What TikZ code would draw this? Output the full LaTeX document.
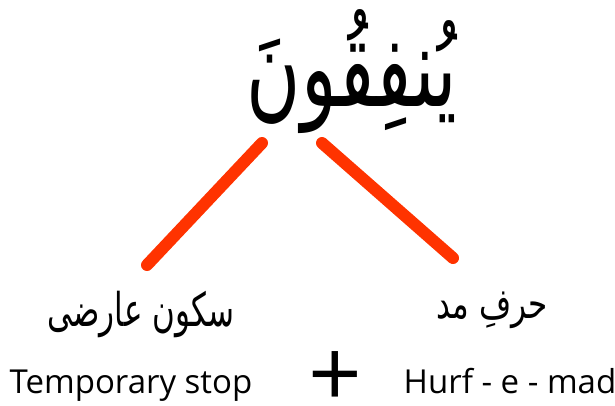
\documentclass[tikz,border=0pt]{standalone}
\usepackage{fontspec}
\setmainfont{Open Sans}
\newfontfamily\arabicfont[Script=Arabic]{DejaVu Sans}
\TeXXeTstate=1
\definecolor{branchred}{HTML}{FF3300}

\begin{document}
\begin{tikzpicture}[x=1pt, y=-1pt]

% --- Styles ---
\tikzset{
    word/.style={inner sep=0pt, font=\arabicfont\fontsize{74}{80}\selectfont},
    urdu/.style={inner sep=0pt, font=\arabicfont\fontsize{31}{36}\selectfont},
    english/.style={inner sep=0pt, anchor=base, font=\fontsize{33}{38}\selectfont},
    plussign/.style={inner sep=0pt, anchor=south, text depth=0pt,
        font=\fontsize{94}{100}\selectfont},
    branch/.style={
        draw=branchred,
        line width=12pt,
        line cap=round
    }
}

% Canvas
\useasboundingbox (0,0) rectangle (615,405);

% Het woord bovenaan
\node[word] (word) at (352,72) {\scalebox{1}[1.5]{\beginR يُنفِقُونَ\endR}};

% Eindpunten van de takken
\coordinate (ltop) at (262,143);
\coordinate (lbot) at (147,265);
\coordinate (rtop) at (322,143);
\coordinate (rbot) at (453,258);

% Takken
\draw[branch] (ltop) -- (lbot);
\draw[branch] (rtop) -- (rbot);

% Urdu labels
\node[urdu] (sukoon) at (141,315) {\scalebox{1}[1.5]{\beginR سکون عارضی\endR}};
\node[urdu] (harf)   at (492,310) {\scalebox{1}[1.35]{\beginR حرفِ مد\endR}};

% English labels
\node[english] (temp) at (131,393) {Temporary stop};
\node[plussign] (plus) at (335,398) {\raisebox{-0.1em}{+}};
\node[english] (hurf) at (510,393) {Hurf - e - mad};

\end{tikzpicture}
\end{document}
